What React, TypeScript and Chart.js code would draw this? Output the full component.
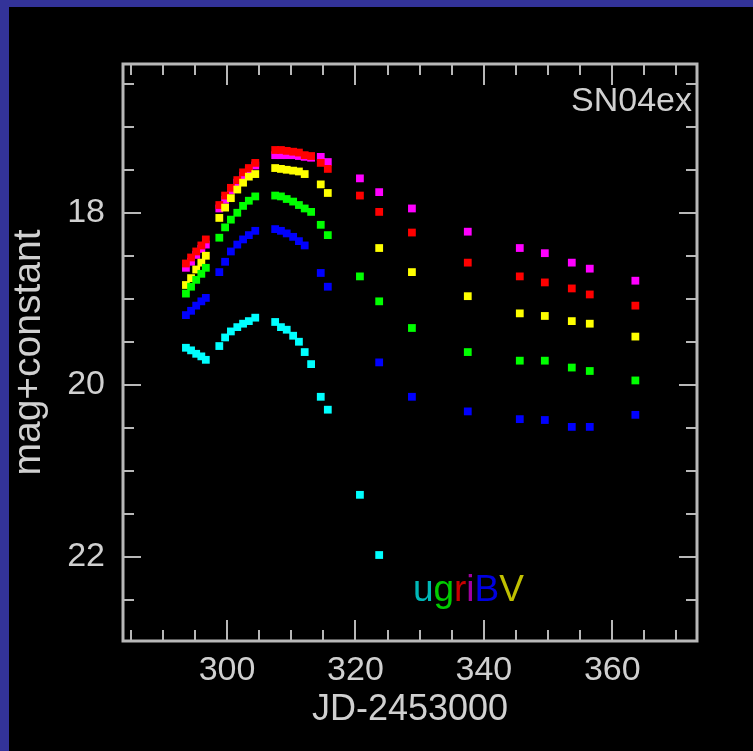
import React, { useEffect, useRef } from "react";
import { Chart, registerables } from "chart.js";

Chart.register(...registerables);

// ---- axis ticks / labels ----
const xTickValues = [300, 320, 340, 360];
const yTickValues = [18, 20, 22];
const xTitle = "JD-2453000";
const yTitle = "mag+constant";
const objectName = "SN04ex";

// ---- bands (legend order) ----
const bandNames = ["u", "g", "r", "i", "B", "V"];
const bandColors = ["#00ffff", "#00ff00", "#ff0000", "#ff00ff", "#0000ff", "#ffff00"];
const legendColors = ["#00b8b8", "#00cc00", "#c80000", "#a000a0", "#0000e0", "#c0c000"];

// ---- data: JD-2453000 and magnitudes per band ----
const iJD = [293.6, 294.4, 295.2, 296.0, 296.7, 298.8, 299.7, 300.6, 301.6, 302.5, 303.4, 304.4, 307.5, 308.4, 309.3, 310.3, 311.2, 312.1, 313.1, 314.6, 315.7, 320.7, 323.7, 328.8, 337.5, 345.6, 349.5, 353.7, 356.5, 363.6];
const iMag = [18.64, 18.57, 18.49, 18.42, 18.37, 17.95, 17.85, 17.74, 17.65, 17.57, 17.50, 17.45, 17.33, 17.33, 17.33, 17.33, 17.34, 17.35, 17.36, 17.35, 17.41, 17.60, 17.76, 17.95, 18.22, 18.41, 18.47, 18.58, 18.65, 18.79];

const rJD = [293.6, 294.4, 295.2, 296.0, 296.7, 298.8, 299.7, 300.6, 301.6, 302.5, 303.4, 304.4, 307.5, 308.4, 309.3, 310.3, 311.2, 312.1, 313.1, 314.6, 315.7, 320.7, 323.7, 328.8, 337.5, 345.6, 349.5, 353.7, 356.5, 363.6];
const rMag = [18.59, 18.52, 18.45, 18.38, 18.31, 17.91, 17.80, 17.71, 17.62, 17.53, 17.48, 17.42, 17.27, 17.27, 17.28, 17.29, 17.30, 17.33, 17.34, 17.42, 17.49, 17.80, 17.99, 18.23, 18.58, 18.74, 18.81, 18.88, 18.95, 19.08];

const vJD = [293.6, 294.4, 295.2, 296.0, 296.7, 298.8, 299.7, 300.6, 301.6, 302.5, 303.4, 304.4, 307.5, 308.4, 309.3, 310.3, 311.2, 312.1, 314.6, 315.7, 323.7, 328.8, 337.5, 345.6, 349.5, 353.7, 356.5, 363.6];
const vMag = [18.84, 18.76, 18.66, 18.58, 18.50, 18.06, 17.94, 17.83, 17.73, 17.65, 17.58, 17.55, 17.48, 17.49, 17.50, 17.51, 17.52, 17.55, 17.67, 17.77, 18.41, 18.69, 18.97, 19.17, 19.20, 19.26, 19.29, 19.44];

const gJD = [293.6, 294.4, 295.2, 296.0, 296.7, 298.8, 299.7, 300.6, 301.6, 302.5, 303.4, 304.4, 307.5, 308.4, 309.3, 310.3, 311.2, 312.1, 313.1, 314.6, 315.7, 320.7, 323.7, 328.8, 337.5, 345.6, 349.5, 353.7, 356.5, 363.6];
const gMag = [18.94, 18.86, 18.78, 18.71, 18.64, 18.29, 18.17, 18.08, 18.00, 17.92, 17.86, 17.81, 17.80, 17.81, 17.84, 17.87, 17.91, 17.95, 17.99, 18.14, 18.26, 18.74, 19.03, 19.34, 19.62, 19.72, 19.72, 19.80, 19.84, 19.95];

const bJD = [293.6, 294.4, 295.2, 296.0, 296.7, 298.8, 299.7, 300.6, 301.6, 302.5, 303.4, 304.4, 307.5, 308.4, 309.3, 310.3, 311.2, 312.1, 314.6, 315.7, 323.7, 328.8, 337.5, 345.6, 349.5, 353.7, 356.5, 363.6];
const bMag = [19.19, 19.14, 19.08, 19.03, 18.99, 18.69, 18.57, 18.45, 18.37, 18.31, 18.26, 18.21, 18.19, 18.21, 18.24, 18.28, 18.33, 18.38, 18.70, 18.86, 19.74, 20.14, 20.31, 20.40, 20.41, 20.49, 20.49, 20.35];

const uJD = [293.6, 294.4, 295.2, 296.0, 296.7, 298.8, 299.7, 300.6, 301.6, 302.5, 303.4, 304.4, 307.5, 308.4, 309.3, 310.3, 311.2, 312.1, 313.1, 314.6, 315.7, 320.7, 323.7];
const uMag = [19.57, 19.60, 19.64, 19.67, 19.71, 19.55, 19.45, 19.38, 19.33, 19.29, 19.26, 19.22, 19.27, 19.33, 19.36, 19.43, 19.50, 19.62, 19.76, 20.14, 20.29, 21.28, 21.98];

const FONT = "'Liberation Sans', Arial, sans-serif";
const TEXT_COLOR = "#d0d0d0";
const FRAME_COLOR = "#b8b8b8";

function pts(xs: number[], ys: number[]) {
  return xs.map((x, k) => ({ x, y: ys[k] }));
}

const framePlugin = {
  id: "framePlugin",
  beforeDraw(chart: any) {
    const ctx = chart.ctx;
    ctx.save();
    ctx.fillStyle = "#000000";
    ctx.fillRect(0, 0, chart.width, chart.height);
    ctx.fillStyle = "#333399";
    ctx.fillRect(0, 0, chart.width, 7);
    ctx.fillRect(0, 0, 9, chart.height);
    ctx.restore();
  },
  afterDatasetsDraw(chart: any) {
    const ctx = chart.ctx;
    const a = chart.chartArea;
    const xs = chart.scales.x;
    const ys = chart.scales.y;
    ctx.save();
    ctx.strokeStyle = FRAME_COLOR;
    ctx.lineWidth = 2;
    // x ticks (inward, top & bottom)
    for (let v = 285; v <= 370; v += 5) {
      const px = Math.round(xs.getPixelForValue(v));
      const len = v % 20 === 0 ? 21 : 11;
      ctx.beginPath();
      ctx.moveTo(px, a.bottom);
      ctx.lineTo(px, a.bottom - len);
      ctx.moveTo(px, a.top);
      ctx.lineTo(px, a.top + len);
      ctx.stroke();
    }
    // y ticks (inward, left & right)
    for (let k = 33; k <= 45; k++) {
      const v = k / 2;
      const py = Math.round(ys.getPixelForValue(v));
      const len = v % 2 === 0 ? 18 : 11;
      ctx.beginPath();
      ctx.moveTo(a.left, py);
      ctx.lineTo(a.left + len, py);
      ctx.moveTo(a.right, py);
      ctx.lineTo(a.right - len, py);
      ctx.stroke();
    }
    ctx.lineWidth = 3;
    ctx.strokeRect(a.left, a.top, a.right - a.left, a.bottom - a.top);

    // object name
    ctx.fillStyle = TEXT_COLOR;
    ctx.font = `34px ${FONT}`;
    ctx.textAlign = "right";
    ctx.textBaseline = "alphabetic";
    ctx.fillText(objectName, a.right - 5, a.top + 47);

    // colour-coded band legend
    ctx.font = `37px ${FONT}`;
    ctx.textAlign = "left";
    let lx = xs.getPixelForValue(328.95);
    const ly = ys.getPixelForValue(22.52);
    bandNames.forEach((b, k) => {
      ctx.fillStyle = legendColors[k];
      ctx.fillText(b, lx, ly);
      lx += ctx.measureText(b).width;
    });
    ctx.restore();
  },
};

export default function App() {
  const ref = useRef<HTMLCanvasElement | null>(null);

  useEffect(() => {
    if (!ref.current) return;
    const bandJD = [uJD, gJD, rJD, iJD, bJD, vJD];
    const bandMag = [uMag, gMag, rMag, iMag, bMag, vMag];
    const drawOrder = [0, 4, 1, 5, 2, 3];
    const datasets = drawOrder.map((k) => ({
      label: bandNames[k],
      data: pts(bandJD[k], bandMag[k]),
      backgroundColor: bandColors[k],
      borderColor: bandColors[k],
      pointStyle: "rect" as const,
      pointRadius: 5.5,
      pointBorderWidth: 0,
      showLine: false,
    }));

    const chart = new Chart(ref.current, {
      type: "scatter",
      data: { datasets },
      plugins: [framePlugin],
      options: {
        animation: false,
        responsive: false,
        devicePixelRatio: 1,
        layout: { padding: { top: 64, right: 56, left: 0, bottom: 0 } },
        plugins: {
          legend: { display: false },
          tooltip: { enabled: false },
        },
        scales: {
          x: {
            type: "linear",
            position: "bottom",
            min: 283.8,
            max: 373.2,
            afterBuildTicks: (s: any) => {
              s.ticks = xTickValues.map((v) => ({ value: v }));
            },
            afterFit: (s: any) => {
              s.height = 110;
            },
            grid: { display: false, drawTicks: false },
            border: { display: false },
            ticks: {
              color: TEXT_COLOR,
              font: { family: FONT, size: 34 },
              padding: 9,
              maxRotation: 0,
              autoSkip: false,
              callback: (v: any) => String(v),
            },
            title: {
              display: true,
              text: xTitle,
              color: TEXT_COLOR,
              font: { family: FONT, size: 36 },
              padding: { top: 0, bottom: 19 },
            },
          },
          y: {
            type: "linear",
            position: "left",
            reverse: true,
            min: 16.27,
            max: 22.98,
            afterBuildTicks: (s: any) => {
              s.ticks = yTickValues.map((v) => ({ value: v }));
            },
            afterFit: (s: any) => {
              s.width = 123;
            },
            grid: { display: false, drawTicks: false },
            border: { display: false },
            ticks: {
              color: TEXT_COLOR,
              font: { family: FONT, size: 34 },
              padding: 18,
              autoSkip: false,
              callback: (v: any) => String(v),
            },
            title: {
              display: true,
              text: yTitle,
              color: TEXT_COLOR,
              font: { family: FONT, size: 39 },
              padding: { top: 6, bottom: 0 },
            },
          },
        },
      },
    });
    return () => chart.destroy();
  }, []);

  return (
    <div style={{ position: "fixed", left: 0, top: 0, width: 753, height: 751, background: "#000" }}>
      <canvas ref={ref} width={753} height={751} style={{ display: "block", width: 753, height: 751 }} />
    </div>
  );
}
